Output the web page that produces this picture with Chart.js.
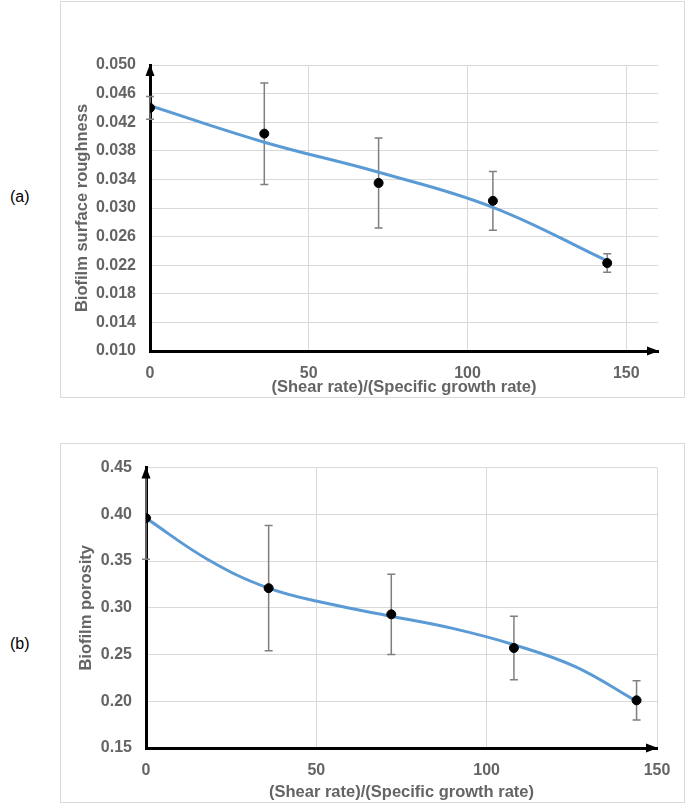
<!DOCTYPE html>
<html>
<head>
<meta charset="utf-8">
<script src="https://cdn.jsdelivr.net/npm/chart.js@4"></script>
<style>
  body { margin: 0; background: #fff; width: 689px; height: 807px; position: relative; overflow: hidden; font-family: "Liberation Sans", Arial, sans-serif; }
  .box { position: absolute; border: 1px solid #d9d9d9; box-sizing: border-box; }
  .tag { position: absolute; font-size: 16px; color: #000; }
  canvas { position: absolute; }
</style>
</head>
<body>
<div class="tag" style="left:10px; top:188px;">(a)</div>
<div class="tag" style="left:10px; top:635px;">(b)</div>
<div class="box" style="left:60px; top:1px; width:625px; height:397px;"></div>
<div class="box" style="left:60px; top:443px; width:625px; height:360px;"></div>
<canvas id="chartA" style="left:61px; top:2px; width:623px; height:395px;" width="623" height="395"></canvas>
<canvas id="chartB" style="left:61px; top:444px; width:623px; height:358px;" width="623" height="358"></canvas>
<script>
/* globals Chart:false */
(function () {
  'use strict'

  // data
  var xValues = [0, 36, 72, 108, 144]

  var roughness = [0.0440, 0.0404, 0.0335, 0.0310, 0.0223]
  var roughnessErr = [0.0016, 0.0071, 0.0063, 0.0041, 0.0013]
  var roughnessTrendX = [0, 36, 72, 108, 144]
  var roughnessTrendY = [0.0443, 0.0392, 0.0350, 0.0301, 0.0226]

  var porosity = [0.396, 0.321, 0.293, 0.257, 0.201]
  var porosityErr = [0.044, 0.067, 0.043, 0.034, 0.021]
  var porosityTrendX = [0, 18, 36, 54, 72, 90, 108, 126, 144]
  var porosityTrendY = [0.396, 0.352, 0.321, 0.304, 0.291, 0.278, 0.2605, 0.237, 0.200]

  var xTicksA = [0, 50, 100, 150]
  var yTicksA = [0.010, 0.014, 0.018, 0.022, 0.026, 0.030, 0.034, 0.038, 0.042, 0.046, 0.050]
  var xTicksB = [0, 50, 100, 150]
  var yTicksB = [0.15, 0.20, 0.25, 0.30, 0.35, 0.40, 0.45]

  var xTitle = '(Shear rate)/(Specific growth rate)'

  var FONT = '"Liberation Sans", Arial, sans-serif'
  var GREY = '#646464'

  const toPoints = (xs, ys) => xs.map((x, i) => ({ x: x, y: ys[i] }))

  // error bars, drawn under the markers
  const errorBars = {
    id: 'errorBars',
    beforeDatasetsDraw(chart, args, opts) {
      const c = chart.ctx
      const xs = chart.scales.x, ys = chart.scales.y
      c.save()
      c.strokeStyle = '#7f7f7f'
      c.lineWidth = 1.5
      opts.mean.forEach((m, i) => {
        const px = xs.getPixelForValue(opts.x[i])
        const top = ys.getPixelForValue(m + opts.err[i])
        const bot = ys.getPixelForValue(m - opts.err[i])
        c.beginPath()
        c.moveTo(px, top); c.lineTo(px, bot)
        c.moveTo(px - 4, top); c.lineTo(px + 4, top)
        c.moveTo(px - 4, bot); c.lineTo(px + 4, bot)
        c.stroke()
      })
      c.restore()
    }
  }

  // arrow heads at the end of both axes
  const arrows = {
    id: 'arrows',
    afterDraw(chart) {
      const c = chart.ctx
      const a = chart.chartArea
      c.save()
      c.fillStyle = '#000'
      c.beginPath()
      c.moveTo(a.left, a.top - 1)
      c.lineTo(a.left - 4.5, a.top + 11)
      c.lineTo(a.left + 4.5, a.top + 11)
      c.closePath()
      c.fill()
      c.beginPath()
      c.moveTo(a.right + 1, a.bottom)
      c.lineTo(a.right - 11, a.bottom - 4.5)
      c.lineTo(a.right - 11, a.bottom + 4.5)
      c.closePath()
      c.fill()
      c.restore()
    }
  }

  const makeChart = (id, cfg) => new Chart(document.getElementById(id), {
    type: 'scatter',
    data: {
      datasets: [{
        data: toPoints(xValues, cfg.mean),
        backgroundColor: '#000',
        borderColor: '#000',
        pointRadius: 4.5,
        order: 0
      }, {
        data: toPoints(cfg.trendX, cfg.trendY),
        showLine: true,
        borderColor: '#5b9bd5',
        borderWidth: 3,
        pointRadius: 0,
        tension: 0.4,
        order: 1
      }]
    },
    options: {
      responsive: false,
      animation: false,
      events: [],
      layout: { padding: { left: 0, top: cfg.padTop, right: cfg.padRight, bottom: 0 } },
      plugins: {
        legend: { display: false },
        tooltip: { enabled: false },
        errorBars: { x: xValues, mean: cfg.mean, err: cfg.err }
      },
      scales: {
        x: {
          type: 'linear',
          min: 0,
          max: cfg.xMax,
          afterBuildTicks: (s) => { s.ticks = cfg.xTicks.map(v => ({ value: v })) },
          afterFit: (s) => { s.height = cfg.xHeight },
          grid: { color: '#d9d9d9', lineWidth: 1, drawTicks: false },
          border: { color: '#000', width: 3 },
          ticks: { color: GREY, padding: 13, font: { family: FONT, size: 16, weight: 'bold' } },
          title: {
            display: true, text: xTitle, color: GREY,
            padding: { top: 0, bottom: 0 },
            font: { family: FONT, size: 16.5, weight: 'bold' }
          }
        },
        y: {
          min: cfg.yTicks[0],
          max: cfg.yTicks[cfg.yTicks.length - 1],
          afterBuildTicks: (s) => { s.ticks = cfg.yTicks.map(v => ({ value: v })) },
          afterFit: (s) => { s.width = cfg.yWidth },
          grid: { color: '#d9d9d9', lineWidth: 1, drawTicks: false },
          border: { color: '#000', width: 3 },
          ticks: {
            color: GREY, padding: 14,
            font: { family: FONT, size: 16, weight: 'bold' },
            callback: (v) => v.toFixed(cfg.digits)
          },
          title: {
            display: true, text: cfg.yTitle, color: GREY,
            padding: { top: cfg.yTitlePad, bottom: 0 },
            font: { family: FONT, size: 16.5, weight: 'bold' }
          }
        }
      }
    },
    plugins: [errorBars, arrows]
  })

  makeChart('chartA', {
    mean: roughness, err: roughnessErr,
    trendX: roughnessTrendX, trendY: roughnessTrendY,
    xTicks: xTicksA, yTicks: yTicksA, xMax: 160, digits: 3,
    yTitle: 'Biofilm surface roughness',
    padTop: 63, padRight: 26, xHeight: 46, yWidth: 89,
    yTitlePad: 12
  })

  makeChart('chartB', {
    mean: porosity, err: porosityErr,
    trendX: porosityTrendX, trendY: porosityTrendY,
    xTicks: xTicksB, yTicks: yTicksB, xMax: 150, digits: 2,
    yTitle: 'Biofilm porosity',
    padTop: 21, padRight: 27, xHeight: 54, yWidth: 85,
    yTitlePad: 16
  })
})()
</script>
</body>
</html>
